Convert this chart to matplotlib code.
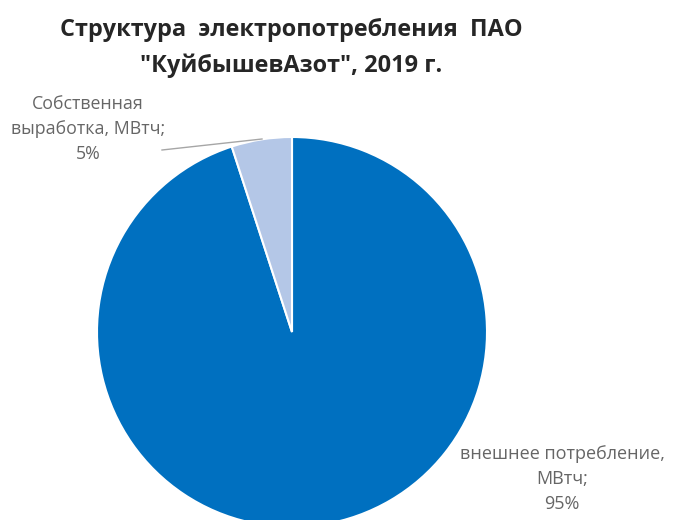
import matplotlib
matplotlib.use("Agg")
import matplotlib.pyplot as plt

title = 'Структура  электропотребления  ПАО\n"КуйбышевАзот", 2019 г.'
categories = ["внешнее потребление,\nМВтч;\n95%", "Собственная\nвыработка, МВтч;\n5%"]
values = [95, 5]
colors = ["#0070C0", "#B4C7E7"]

W, H = 674, 520
fig = plt.figure(figsize=(W / 100, H / 100), dpi=100)
ax = fig.add_axes([0, 0, 1, 1])

cx, cy, r = 292, H - 332, 195
wedges, _ = ax.pie(values, colors=colors, startangle=90, counterclock=False,
                   center=(cx, cy), radius=r, frame=True,
                   wedgeprops=dict(edgecolor="white", linewidth=1.5))
ax.set_xlim(0, W)
ax.set_ylim(0, H)
ax.set_aspect("equal")
ax.axis("off")

fam = ["Open Sans", "DejaVu Sans"]
ax.text(291, H - 48, title, ha="center", va="center", fontsize=16.9,
        fontweight="bold", color="#262626", family=fam, linespacing=1.6)

ax.text(562, H - 479, categories[0], ha="center", va="center", fontsize=13.0,
        color="#666666", family=fam, linespacing=1.5)
ax.text(88, H - 129, categories[1], ha="center", va="center", fontsize=12.8,
        color="#666666", family=fam, linespacing=1.5)
ax.plot([162, 262], [H - 150, H - 139], color="#A6A6A6", linewidth=1)

fig.savefig("out.png", dpi=100)
